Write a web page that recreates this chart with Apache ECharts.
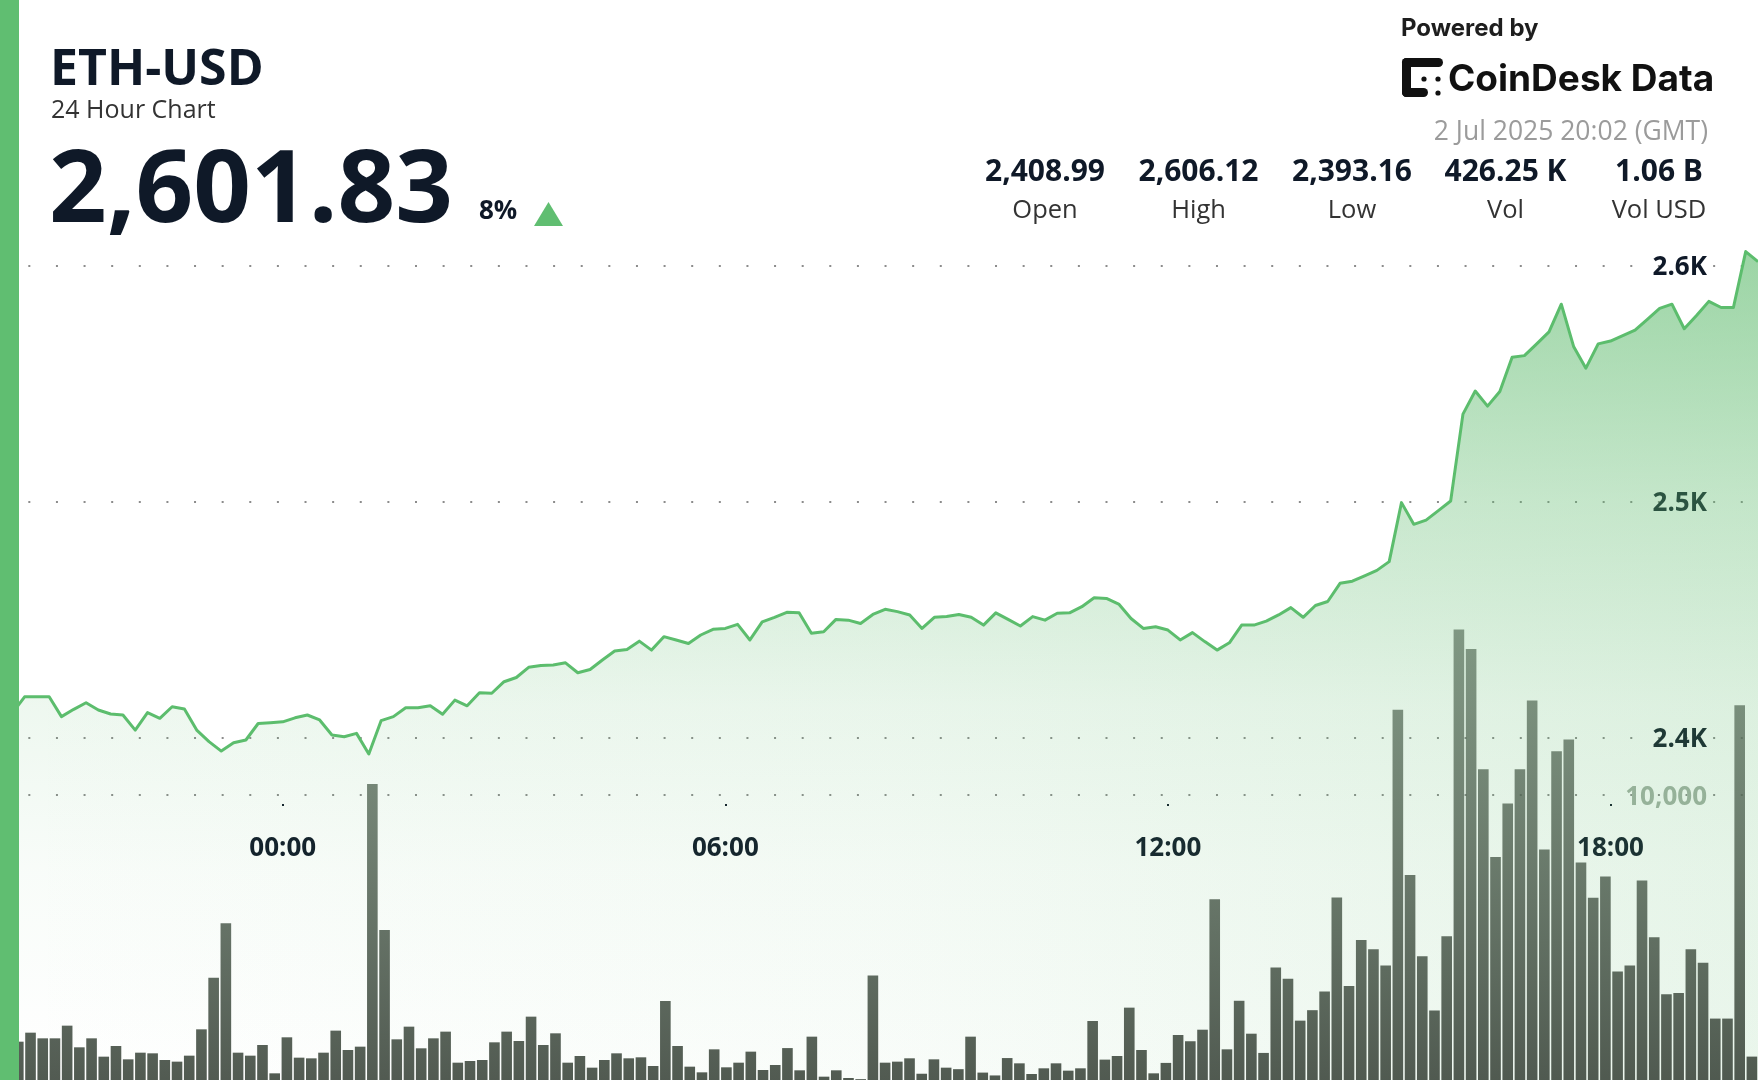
<!DOCTYPE html>
<html>
<head>
<meta charset="utf-8">
<script src="https://cdn.jsdelivr.net/npm/echarts@6/dist/echarts.min.js"></script>
<style>
html,body{margin:0;padding:0;background:#ffffff;}
#chart{width:1758px;height:1080px;}
</style>
</head>
<body>
<div id="chart"></div>
<script>
// ---------------- DATA ----------------
const pairName = 'ETH-USD';
const subtitle = '24 Hour Chart';
const lastPrice = '2,601.83';
const changePct = '8%';
const poweredBy = 'Powered by';
const brandName = 'CoinDesk Data';
const timestamp = '2 Jul 2025 20:02 (GMT)';
const statValues = ['2,408.99', '2,606.12', '2,393.16', '426.25 K', '1.06 B'];
const statLabels = ['Open', 'High', 'Low', 'Vol', 'Vol USD'];

// 10-minute slots from 20:10 (1 Jul) to 19:50 (2 Jul) GMT
const firstSlot = '20:10';
const slotCount = 144;
const timeTicks = ['00:00', '06:00', '12:00', '18:00'];

const priceTicks = [2400, 2500, 2600];
const priceTickLabels = ['2.4K', '2.5K', '2.6K'];
const volumeTicks = [10000];
const volumeTickLabels = ['10,000'];

const prices = [
  2409.0, 2410.5, 2417.4, 2417.4, 2417.4, 2409.0, 2412.1, 2414.9, 2411.8, 2410.1,
  2409.7, 2403.3, 2410.7, 2408.3, 2413.2, 2412.2, 2403.3, 2398.4, 2394.4, 2397.9,
  2399.1, 2406.1, 2406.4, 2406.8, 2408.5, 2409.7, 2407.6, 2401.2, 2400.5, 2401.9,
  2393.2, 2407.3, 2409.0, 2412.8, 2412.8, 2413.6, 2410.0, 2416.0, 2413.6, 2419.1,
  2418.9, 2423.8, 2425.6, 2429.9, 2430.7, 2430.9, 2431.8, 2427.6, 2429.0, 2433.0,
  2436.8, 2437.5, 2441.0, 2437.2, 2442.9, 2441.5, 2440.0, 2443.6, 2446.0, 2446.4,
  2448.1, 2441.5, 2449.2, 2451.1, 2453.2, 2453.0, 2444.3, 2445.0, 2450.2, 2449.9,
  2448.5, 2452.3, 2454.5, 2453.5, 2452.1, 2446.4, 2451.1, 2451.4, 2452.3, 2451.1,
  2447.8, 2453.0, 2450.2, 2447.4, 2451.4, 2449.9, 2452.8, 2453.0, 2455.6, 2459.4,
  2459.1, 2456.7, 2450.6, 2446.4, 2447.1, 2445.7, 2441.5, 2444.6, 2440.8, 2437.2,
  2440.3, 2447.8, 2447.8, 2449.5, 2452.1, 2455.2, 2451.1, 2456.1, 2457.8, 2465.5,
  2466.4, 2468.7, 2471.0, 2474.7, 2499.7, 2490.5, 2492.3, 2496.3, 2500.4, 2537.2,
  2547.0, 2540.6, 2546.8, 2561.3, 2562.0, 2567.0, 2572.1, 2583.8, 2565.9, 2556.7,
  2567.0, 2568.2, 2570.5, 2572.8, 2577.4, 2582.0, 2583.8, 2573.4, 2579.0, 2585.0,
  2582.4, 2582.4, 2606.1, 2601.83
];

const volumes = [
  1400, 1345, 1661, 1462, 1462, 1907, 1147, 1462, 819, 1193,
  725, 959, 936, 702, 644, 854, 1778, 3592, 5499, 959,
  854, 1228, 234, 1498, 784, 760, 959, 1732, 1053, 1170,
  10390, 5265, 1427, 1872, 1112, 1462, 1697, 608, 667, 702,
  1322, 1697, 1369, 2223, 1229, 1638, 608, 842, 433, 702,
  936, 761, 796, 491, 2773, 1193, 468, 269, 1076, 445,
  608, 995, 351, 527, 1120, 340, 1521, 117, 340, 70,
  30, 3670, 608, 644, 761, 220, 725, 433, 380, 1521,
  260, 160, 770, 585, 211, 410, 585, 328, 410, 2071,
  715, 842, 2539, 1053, 234, 600, 1580, 1360, 1765, 6341,
  1076, 2780, 1625, 950, 3950, 3550, 2083, 2450, 3105, 6400,
  3295, 4913, 4590, 4018, 12994, 7193, 4341, 2439, 5046, 15808,
  15124, 10903, 7822, 9706, 10903, 13317, 8088, 11531, 11948, 7632,
  6394, 7137, 3807, 4018, 7004, 5007, 3011, 3049, 4590, 4113,
  2155, 2155, 13148, 821
];

// ---------------- CATEGORY LABELS ----------------
const times = [];
(function () {
  const [h0, m0] = firstSlot.split(':').map(Number);
  for (let k = 0; k < slotCount; k++) {
    const t = (h0 * 60 + m0 + 10 * k) % 1440;
    times.push(String(Math.floor(t / 60)).padStart(2, '0') + ':' + String(t % 60).padStart(2, '0'));
  }
})();

// ---------------- STYLE ----------------
const INK = '#0f1928';
const GREEN = '#60be71';
const FONT = '"Open Sans", "Noto Sans", sans-serif';
const dotted = { type: [2, 25.62], dashOffset: -0.7, width: 2, color: '#8c8c8c' };

const chart = echarts.init(document.getElementById('chart'), null, { renderer: 'canvas' });

const showTick = (idx, val) => timeTicks.indexOf(val) !== -1;

const areaVertical = new echarts.graphic.LinearGradient(0, 250, 0, 1080, [
  { offset: 0, color: 'rgba(93,186,108,0.80)' },
  { offset: 0.3, color: 'rgba(93,186,108,0.40)' },
  { offset: 0.55, color: 'rgba(93,186,108,0.15)' },
  { offset: 0.75, color: 'rgba(93,186,108,0.06)' },
  { offset: 1, color: 'rgba(93,186,108,0.0)' }
], true);
const areaHorizontal = new echarts.graphic.LinearGradient(0, 0, 1758, 0, [
  { offset: 0, color: 'rgba(93,186,108,0.0)' },
  { offset: 0.5, color: 'rgba(93,186,108,0.05)' },
  { offset: 1, color: 'rgba(93,186,108,0.18)' }
], true);
const barFill = new echarts.graphic.LinearGradient(0, 620, 0, 1080, [
  { offset: 0, color: 'rgba(95,120,98,0.72)' },
  { offset: 1, color: 'rgba(58,68,58,0.88)' }
], true);

const graphics = [];
// left stripe
graphics.push({ type: 'rect', z: 100, shape: { x: 0, y: 0, width: 19, height: 1080 }, style: { fill: GREEN } });
// title block
graphics.push({ type: 'text', z: 50, x: 50, y: 71, style: { text: pairName, font: 'bold 50px ' + FONT, fill: INK, verticalAlign: 'middle' } });
graphics.push({ type: 'text', z: 50, x: 51, y: 111, style: { text: subtitle, font: '25px ' + FONT, fill: '#333333', verticalAlign: 'middle' } });
graphics.push({ type: 'text', z: 50, x: 49, y: 193, style: { text: lastPrice, font: 'bold 101px ' + FONT, fill: INK, verticalAlign: 'middle' } });
graphics.push({ type: 'text', z: 50, x: 479, y: 212, style: { text: changePct, font: 'bold 26px ' + FONT, fill: INK, verticalAlign: 'middle' } });
graphics.push({ type: 'polygon', z: 50, shape: { points: [[534, 226], [563, 226], [548.5, 202]] }, style: { fill: GREEN } });
// powered by block
graphics.push({ type: 'text', z: 50, x: 1401, y: 29, style: { text: poweredBy, font: 'bold 24px Inter, sans-serif', fill: '#1e1e1e', verticalAlign: 'middle' } });
// logo icon
const logoFill = '#111111';
graphics.push({ type: 'rect', z: 50, shape: { x: 1402, y: 58, width: 41, height: 9, r: 4.5 }, style: { fill: logoFill } });
graphics.push({ type: 'rect', z: 50, shape: { x: 1402, y: 58, width: 9, height: 39, r: 4.5 }, style: { fill: logoFill } });
graphics.push({ type: 'rect', z: 50, shape: { x: 1402, y: 88, width: 26, height: 9, r: 4.5 }, style: { fill: logoFill } });
graphics.push({ type: 'circle', z: 50, shape: { cx: 1424, cy: 79, r: 2.6 }, style: { fill: logoFill } });
graphics.push({ type: 'circle', z: 50, shape: { cx: 1438, cy: 79, r: 2.6 }, style: { fill: logoFill } });
graphics.push({ type: 'circle', z: 50, shape: { cx: 1438, cy: 93, r: 2.6 }, style: { fill: logoFill } });
graphics.push({ type: 'text', z: 50, x: 1448, y: 80, style: { text: brandName, font: 'bold 37px Inter, sans-serif', fill: '#111111', verticalAlign: 'middle' } });
// timestamp
graphics.push({ type: 'text', z: 50, x: 1708, y: 132, style: { text: timestamp, font: '26.5px ' + FONT, fill: '#9b9b9b', align: 'right', verticalAlign: 'middle' } });
// stats
statValues.forEach((v, i) => {
  const cx = 1045 + 153.5 * i;
  graphics.push({ type: 'text', z: 50, x: cx, y: 172.5, style: { text: v, font: 'bold 30px ' + FONT, fill: INK, align: 'center', verticalAlign: 'middle' } });
  graphics.push({ type: 'text', z: 50, x: cx, y: 211, style: { text: statLabels[i], font: '25.5px ' + FONT, fill: '#333333', align: 'center', verticalAlign: 'middle' } });
});

const option = {
  animation: false,
  backgroundColor: '#ffffff',
  grid: [
    { left: 0, right: 0, top: 148, bottom: 0 },          // price area
    { left: 0, right: 0, top: 265.7, bottom: 342.2 },    // price guide lines
    { left: 0, right: 0, top: 510, bottom: 0 }           // volume
  ],
  xAxis: [
    {
      gridIndex: 0, type: 'category', data: times, boundaryGap: false,
      position: 'bottom', offset: -276,
      axisLine: { show: false },
      axisTick: { show: true, length: 2, interval: showTick, lineStyle: { width: 2, color: INK } },
      axisLabel: { show: true, interval: showTick, margin: 32, fontFamily: FONT, fontWeight: 'bold', fontSize: 26, color: INK },
      splitLine: { show: false }
    },
    { gridIndex: 1, type: 'value', min: 0, max: 1, show: false },
    { gridIndex: 2, type: 'category', data: times, boundaryGap: true, show: false }
  ],
  yAxis: [
    { gridIndex: 0, type: 'value', min: 2255, max: 2650, show: false, splitLine: { show: false } },
    {
      gridIndex: 1, type: 'value', min: priceTicks[0], max: priceTicks[priceTicks.length - 1], interval: 100,
      position: 'right',
      axisLine: { show: false }, axisTick: { show: false },
      axisLabel: {
        inside: true, margin: 51, fontFamily: FONT, fontWeight: 'bold', fontSize: 26, color: INK,
        verticalAlign: 'top', lineHeight: 4.5,
        formatter: v => { const i = priceTicks.indexOf(v); return i === -1 ? '' : priceTickLabels[i]; }
      },
      splitLine: { show: true, lineStyle: dotted }
    },
    {
      gridIndex: 2, type: 'value', min: 0, max: 20000, interval: 10000,
      position: 'right',
      axisLine: { show: false }, axisTick: { show: false },
      axisLabel: {
        inside: true, margin: 51, fontFamily: FONT, fontWeight: 'bold', fontSize: 26, color: '#a2b0a3',
        verticalAlign: 'top', lineHeight: 4.5,
        formatter: v => { const i = volumeTicks.indexOf(v); return i === -1 ? '' : volumeTickLabels[i]; }
      },
      splitLine: { show: true, showMinLine: false, showMaxLine: false, lineStyle: dotted }
    }
  ],
  series: [
    {
      type: 'line', xAxisIndex: 0, yAxisIndex: 0, data: prices,
      symbol: 'none', silent: true, z: 1,
      lineStyle: { width: 0, opacity: 0 },
      areaStyle: { color: areaHorizontal, origin: 'start' }
    },
    {
      type: 'line', xAxisIndex: 0, yAxisIndex: 0, data: prices,
      symbol: 'none', z: 2,
      lineStyle: { color: '#5cbd6d', width: 3, join: 'round' },
      areaStyle: { color: areaVertical, origin: 'start' }
    },
    {
      type: 'bar', xAxisIndex: 2, yAxisIndex: 2, data: volumes, z: 3,
      barCategoryGap: '13%',
      itemStyle: { color: barFill }
    }
  ],
  graphic: graphics
};
chart.setOption(option);
</script>
</body>
</html>
